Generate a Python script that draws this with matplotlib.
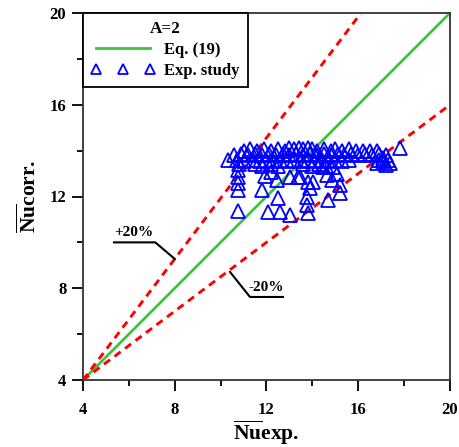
import numpy as np
import matplotlib
matplotlib.use("Agg")
import matplotlib.pyplot as plt

plt.rcParams['font.family'] = ['Liberation Serif', 'DejaVu Serif']
plt.rcParams['font.weight'] = 'bold'
plt.rcParams['mathtext.fontset'] = 'custom'
plt.rcParams['mathtext.rm'] = 'Liberation Serif:bold'
plt.rcParams['mathtext.bf'] = 'Liberation Serif:bold'
plt.rcParams['mathtext.it'] = 'Liberation Serif:bold'

# Data
nu_exp = [
    # band row ~14.0
    11.0, 11.3, 11.6, 11.9, 12.2, 12.5, 12.8, 13.0, 13.2, 13.4, 13.6, 13.8, 14.0, 14.2,
    14.5, 14.8, 15.0, 15.3, 15.6, 15.9, 16.2, 16.5, 16.8, 17.8,
    # band row ~13.8
    10.6, 10.9, 11.2, 11.5, 11.8, 12.1, 12.4, 12.7, 13.0, 13.3, 13.6, 13.9, 14.2, 14.5,
    14.8, 15.1, 15.4, 15.7, 16.0, 16.3, 16.6, 16.9, 17.2,
    # band row ~13.6
    10.3, 10.7, 11.0, 11.4, 11.7, 12.0, 12.3, 12.6, 12.9, 13.2, 13.5, 13.8, 14.1, 14.4,
    14.7, 15.0, 15.3, 15.6, 16.9, 17.1, 17.3,
    # band row ~13.4
    10.8, 11.5, 11.8, 12.2, 12.5, 13.6, 14.0, 14.3, 14.6, 14.9, 16.8, 17.1, 17.2, 17.4,
    # scattered lower points
    10.77, 10.77, 10.77, 10.77, 10.75,
    11.79, 11.95, 12.2, 12.45, 12.51, 12.08, 12.59, 13.02,
    13.02, 13.39, 13.46, 13.82, 13.9, 13.75, 13.75, 13.82,
    14.04, 14.46, 14.62, 14.84, 15.06, 15.2, 15.2, 14.69,
]
nu_corr = [
    14.0, 14.05, 14.0, 14.05, 14.0, 14.05, 14.0, 14.1, 14.05, 14.1, 14.05, 14.1, 14.05, 14.0,
    14.05, 14.0, 14.05, 14.0, 14.05, 14.0, 14.0, 14.0, 14.0, 14.1,
    13.8, 13.85, 13.8, 13.85, 13.8, 13.85, 13.8, 13.85, 13.8, 13.85, 13.8, 13.85, 13.8, 13.85,
    13.8, 13.85, 13.8, 13.85, 13.8, 13.85, 13.8, 13.85, 13.8,
    13.6, 13.6, 13.55, 13.6, 13.55, 13.6, 13.55, 13.6, 13.55, 13.6, 13.55, 13.6, 13.55, 13.6,
    13.55, 13.6, 13.55, 13.6, 13.6, 13.55, 13.6,
    13.4, 13.4, 13.35, 13.4, 13.35, 13.4, 13.35, 13.4, 13.35, 13.3, 13.45, 13.66, 13.37, 13.45,
    13.16, 12.87, 12.58, 12.28, 11.37,
    12.28, 12.9, 13.05, 12.7, 11.92, 11.34, 11.34, 11.19,
    12.87, 12.87, 12.87, 12.65, 12.36, 11.99, 11.63, 11.27,
    12.65, 13.3, 12.94, 12.72, 13.0, 12.5, 12.14, 11.85,
]
line_x = [4, 20]
origin = 4.0
slope_eq = 1.0
slope_plus = 1.32
slope_minus = 0.75

fig = plt.figure(figsize=(4.6, 4.47), dpi=100)
ax = fig.add_axes([83/460, 1-380/447, 367/460, 367/447])

lx = np.array(line_x, dtype=float)
dash = (0, (2.6, 1.9))
ax.plot(lx, origin + slope_plus*(lx - origin), color='red', ls=dash, lw=2.1, zorder=3)
ax.plot(lx, origin + slope_minus*(lx - origin), color='red', ls=dash, lw=2.1, zorder=3)
ax.plot(lx, origin + slope_eq*(lx - origin), color='#3dc43d', lw=2.0, zorder=2, label='Eq. (19)')
ax.plot(nu_exp, nu_corr, ls='none', marker='^', ms=9.5, mfc='none', mec='blue',
        mew=1.3, zorder=4, label='Exp. study')

ax.set_xlim(4, 20)
ax.set_ylim(4, 20)
ax.set_xticks([4, 8, 12, 16, 20])
ax.set_yticks([4, 8, 12, 16, 20])
ax.set_xticks([6, 10, 14, 18], minor=True)
ax.set_yticks([6, 10, 14, 18], minor=True)
ax.tick_params(which='major', direction='out', length=8, width=1.3, labelsize=12, pad=8)
ax.tick_params(which='minor', direction='out', length=4, width=1.3)
ax.tick_params(axis='y', pad=4)
for lab in ax.get_xticklabels() + ax.get_yticklabels():
    lab.set_fontweight('bold')
for s in ax.spines.values():
    s.set_linewidth(1.3)
    s.set_color('#333333')

ax.set_xlabel(r'$\overline{\mathrm{Nu}}\mathrm{exp.}$', fontsize=15.5, labelpad=0)
ax.set_ylabel(r'$\overline{\mathrm{Nu}}\mathrm{corr.}$', fontsize=15.5, labelpad=6)

# annotations
ax.plot([5.35, 7.15, 8.0], [10.0, 10.0, 9.28], color='black', lw=1.5, zorder=5)
ax.text(5.35, 10.15, '+20%', fontsize=11, fontweight='bold', ha='left', va='bottom')
ax.plot([10.41, 11.28, 12.72], [8.71, 7.62, 7.62], color='black', lw=1.5, zorder=5)
ax.text(11.2, 7.75, '-20%', fontsize=11, fontweight='bold', ha='left', va='bottom')

leg = ax.legend(loc='upper left', bbox_to_anchor=(0, 1), borderaxespad=0,
                title='A=2', fontsize=12, title_fontsize=12.3, numpoints=3,
                markerscale=0.75, handlelength=3.8, handletextpad=0.55,
                fancybox=False, framealpha=1, edgecolor='black',
                borderpad=0.5, labelspacing=0.28)
leg.get_frame().set_linewidth(1.3)
leg.get_title().set_fontweight('bold')
for t in leg.get_texts():
    t.set_fontweight('bold')

fig.savefig('out.png', dpi=100)
